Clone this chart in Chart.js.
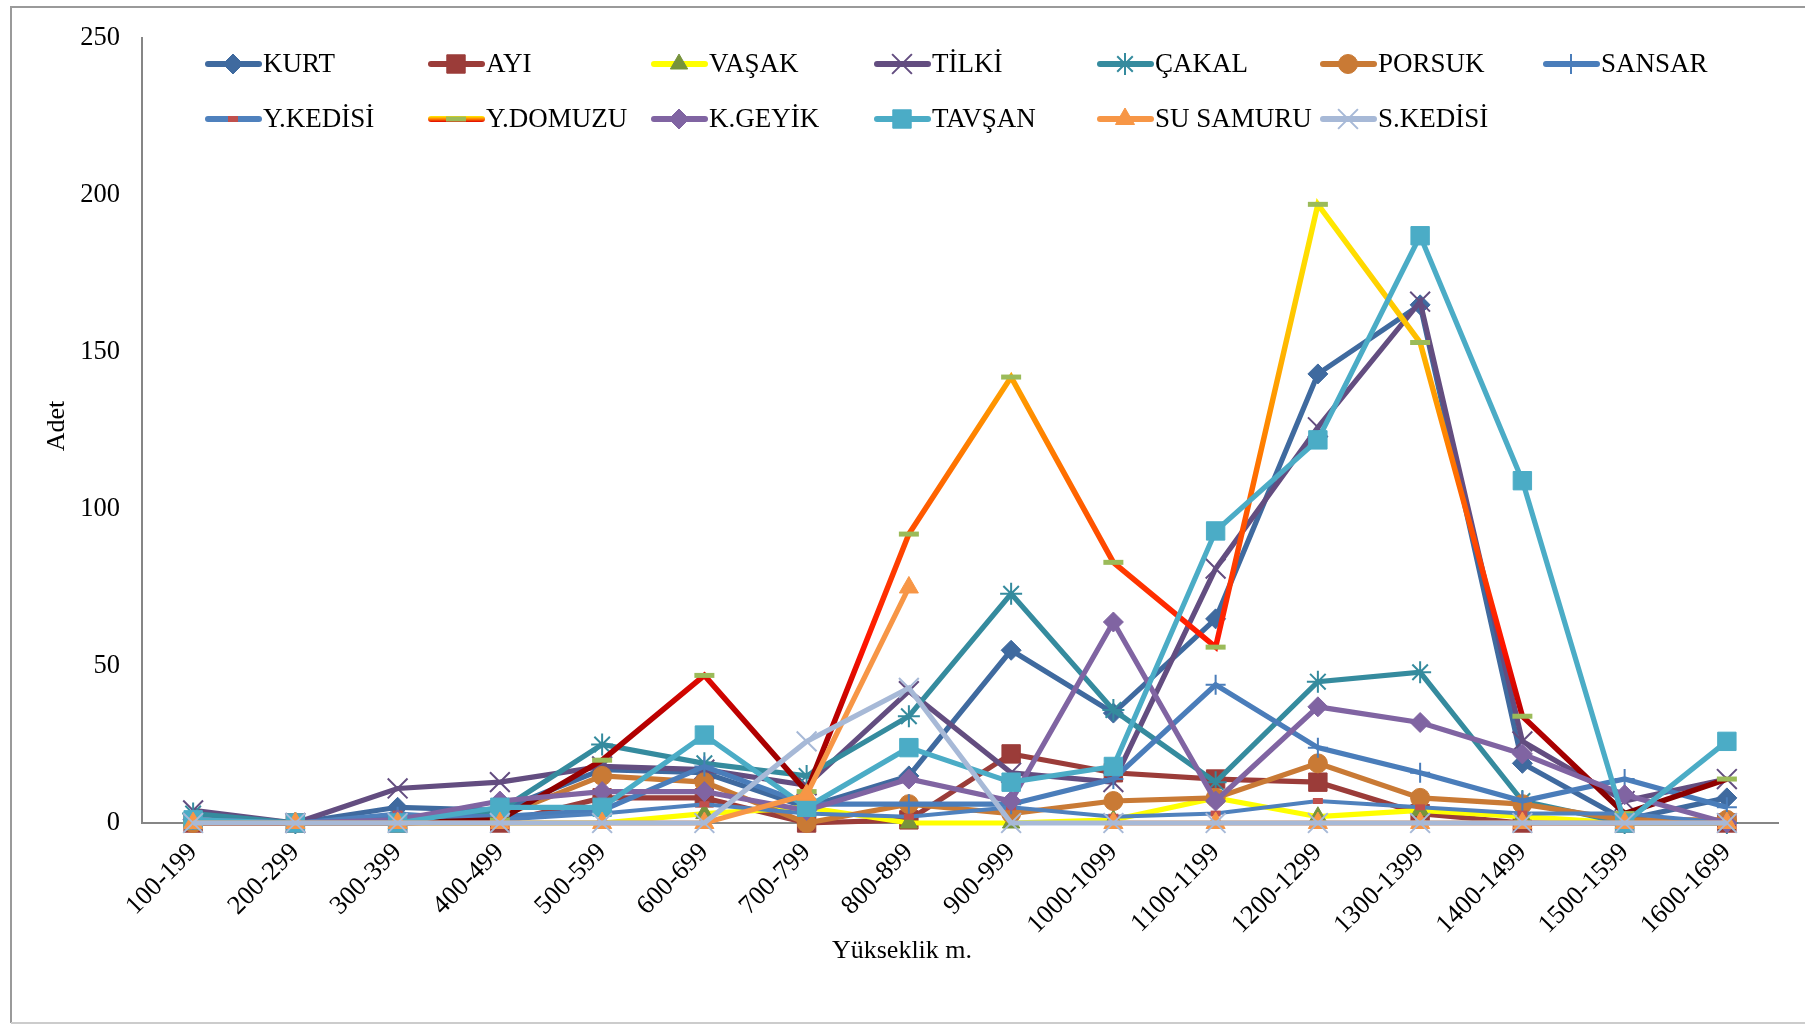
<!DOCTYPE html>
<html lang="tr">
<head>
<meta charset="utf-8">
<title>Yükseklik - Adet</title>
<script src="https://cdn.jsdelivr.net/npm/chart.js@4.4.1/dist/chart.umd.min.js"></script>
<style>
  html, body { margin: 0; padding: 0; background: #fff; }
  #wrap { position: relative; width: 1805px; height: 1025px; }
</style>
</head>
<body>
<div id="wrap"><canvas id="chart" width="1805" height="1025"></canvas></div>
<script>
// Altitude bands (m) and counts per species
const categories = ['100-199', '200-299', '300-399', '400-499', '500-599', '600-699', '700-799', '800-899',
                    '900-999', '1000-1099', '1100-1199', '1200-1299', '1300-1399', '1400-1499', '1500-1599', '1600-1699'];
const yTicks = [0, 50, 100, 150, 200, 250];

const kurt     = [1, 0, 5, 4, 17, 16, 5, 15, 55, 35, 65, 143, 165, 19, 1, 8];
const ayi      = [0, 0, 0, 0, 8, 8, 0, 1, 22, 16, 14, 13, 3, 0, 0, 0];
const vasak    = [0, 0, 0, 0, 0, 3, 5, 0, 0, 1, 8, 2, 4, 2, 0, 0];
const tilki    = [4, 0, 11, 13, 18, 17, 12, 42, 16, 13, 81, 126, 166, 26, 7, 14];
const cakal    = [3, 0, 1, 4, 25, 19, 15, 34, 73, 36, 13, 45, 48, 7, 0, 0];
const porsuk   = [0, 0, 0, 2, 15, 13, 0, 6, 3, 7, 8, 19, 8, 6, 1, 1];
const sansar   = [1, 0, 2, 2, 4, 18, 6, 6, 6, 14, 44, 24, 16, 7, 14, 5];
const yKedisi  = [0, 0, 3, 1, 3, 6, 3, 2, 5, 2, 3, 7, 5, 3, 3, 0];
const yDomuzu  = [0, 0, 0, 1, 20, 47, 10, 92, 142, 83, 56, 197, 153, 34, 3, 14];
const kGeyik   = [1, 0, 1, 7, 10, 10, 4, 14, 7, 64, 7, 37, 32, 22, 9, 0];
const tavsan   = [1, 0, 0, 5, 5, 28, 5, 24, 13, 18, 93, 122, 187, 109, 0, 26];
const suSamuru = [0, 0, 0, 0, 0, 0, 9, 75, null, 0, 0, 0, 0, 0, 0, 0];
const sKedisi  = [0, 0, 0, 0, 0, 0, 26, 43, 0, 0, 0, 0, 0, 0, 0, 0];

const FONT = '"Liberation Serif", "Times New Roman", serif';

// Y.DOMUZU line: dark red at the bottom, through orange, to yellow at the top
function domuzuGradient(chart) {
  const { ctx, chartArea, scales } = chart;
  if (!chartArea) return '#e00000';
  const y0 = scales.y.getPixelForValue(0);
  const y1 = scales.y.getPixelForValue(200);
  const g = ctx.createLinearGradient(0, y0, 0, y1);
  g.addColorStop(0, '#780000');
  g.addColorStop(0.18, '#c00000');
  g.addColorStop(0.28, '#ff1400');
  g.addColorStop(0.45, '#ff4a00');
  g.addColorStop(0.7, '#ffa000');
  g.addColorStop(0.78, '#ffc000');
  g.addColorStop(1, '#fff200');
  return g;
}

const series = [
  { label: 'KURT',      data: kurt,     color: '#3f6a9f', marker: 'rectRot',  radius: 10 },
  { label: 'AYI',       data: ayi,      color: '#9b3c39', marker: 'rect',     radius: 13 },
  { label: 'VAŞAK',     data: vasak,    color: '#ffff00', marker: 'triangle', radius: 10, markerColor: '#77933c' },
  { label: 'TİLKİ',     data: tilki,    color: '#634d80', marker: 'crossRot', radius: 14, markerWidth: 2 },
  { label: 'ÇAKAL',     data: cakal,    color: '#358b9e', marker: 'star',     radius: 11, markerWidth: 2 },
  { label: 'PORSUK',    data: porsuk,   color: '#c97a35', marker: 'circle',   radius: 9.5 },
  { label: 'SANSAR',    data: sansar,   color: '#4a7dba', marker: 'cross',    radius: 10, markerWidth: 2 },
  { label: 'Y.KEDİSİ',  data: yKedisi,  color: '#4f81bd', marker: 'line',     radius: 5, markerWidth: 6, markerColor: '#c0504d', lineWidth: 4 },
  { label: 'Y.DOMUZU',  data: yDomuzu,  color: null,      marker: 'line',     radius: 10, markerWidth: 5, markerColor: '#9bbb59', lineWidth: 5.5 },
  { label: 'K.GEYİK',   data: kGeyik,   color: '#8064a2', marker: 'rectRot',  radius: 10 },
  { label: 'TAVŞAN',    data: tavsan,   color: '#4bacc6', marker: 'rect',     radius: 13 },
  { label: 'SU SAMURU', data: suSamuru, color: '#f79646', marker: 'triangle', radius: 11 },
  { label: 'S.KEDİSİ',  data: sKedisi,  color: '#a7b9d7', marker: 'crossRot', radius: 14, markerWidth: 2 },
];

const datasets = series.map((s, i) => ({
  label: s.label,
  data: s.data,
  borderColor: s.color || (ctx => domuzuGradient(ctx.chart)),
  backgroundColor: s.color || '#ff0000',
  borderWidth: s.lineWidth || 5.2,
  pointStyle: s.marker,
  pointRadius: s.radius,
  pointHoverRadius: s.radius,
  pointBackgroundColor: s.markerColor || s.color,
  pointBorderColor: s.markerColor || s.color,
  pointBorderWidth: s.markerWidth || 1,
  tension: 0,
  spanGaps: false,
  fill: false,
  clip: false,
  order: series.length - i,   // later series on top, as in the original
}));

// Frame, axis titles and the two-row legend
const decor = {
  id: 'decor',
  beforeDraw(chart) {
    const ctx = chart.ctx;
    ctx.save();
    ctx.fillStyle = '#fff';
    ctx.fillRect(0, 0, chart.width, chart.height);
    ctx.strokeStyle = '#9a9a9a';
    ctx.lineWidth = 2;
    ctx.beginPath();
    ctx.moveTo(chart.width, 7);
    ctx.lineTo(11, 7);
    ctx.lineTo(11, 1023);
    ctx.stroke();
    ctx.strokeStyle = '#cccccc';
    ctx.beginPath();
    ctx.moveTo(11, 1023);
    ctx.lineTo(chart.width, 1023);
    ctx.stroke();
    ctx.restore();
  },
  afterDraw(chart) {
    const ctx = chart.ctx;
    ctx.save();
    ctx.fillStyle = '#000';
    ctx.font = `26px ${FONT}`;
    ctx.textAlign = 'center';
    ctx.textBaseline = 'middle';
    ctx.fillText('Yükseklik m.', 902, 951);
    ctx.save();
    ctx.translate(57, 426);
    ctx.rotate(-Math.PI / 2);
    ctx.fillText('Adet', 0, 0);
    ctx.restore();

    // legend grid: 7 columns, 2 rows
    series.forEach((s, i) => {
      const x0 = 205 + (i % 7) * 223;
      const y = 64 + Math.floor(i / 7) * 55;
      if (s.color) {
        ctx.strokeStyle = s.color;
      } else {
        const g = ctx.createLinearGradient(0, y - 3, 0, y + 3);
        g.addColorStop(0, '#fff200');
        g.addColorStop(0.5, '#ff8000');
        g.addColorStop(1, '#e00000');
        ctx.strokeStyle = g;
      }
      ctx.lineWidth = 6;
      ctx.lineCap = 'round';
      ctx.beginPath();
      ctx.moveTo(x0 + 3, y);
      ctx.lineTo(x0 + 54, y);
      ctx.stroke();
      ctx.lineCap = 'butt';
      ctx.fillStyle = s.markerColor || s.color;
      ctx.strokeStyle = s.markerColor || s.color;
      ctx.lineWidth = s.markerWidth || 1;
      Chart.helpers.drawPoint(ctx, {
        pointStyle: s.marker, radius: s.radius, borderWidth: s.markerWidth || 1, rotation: 0,
      }, x0 + 28, y);
      ctx.fillStyle = '#000';
      ctx.textAlign = 'left';
      ctx.textBaseline = 'middle';
      ctx.font = `27px ${FONT}`;
      ctx.fillText(s.label, x0 + 58, y + 1);
    });
    ctx.restore();
  },
};

new Chart(document.getElementById('chart'), {
  type: 'line',
  data: { labels: categories, datasets },
  plugins: [decor],
  options: {
    responsive: false,
    animation: false,
    devicePixelRatio: 1,
    layout: { padding: { left: 0, right: 27, top: 32, bottom: 0 } },
    plugins: {
      legend: { display: false },
      tooltip: { enabled: false },
    },
    events: [],
    scales: {
      x: {
        type: 'category',
        offset: true,
        grid: { display: false, drawTicks: false },
        border: { display: true, color: '#868686', width: 2 },
        ticks: {
          autoSkip: false, minRotation: 45, maxRotation: 45, padding: 14,
          color: '#000', font: { family: FONT, size: 26.5 },
        },
        afterFit: s => { s.height = 202; },
      },
      y: {
        min: 0,
        max: 250,
        afterBuildTicks: s => { s.ticks = yTicks.map(v => ({ value: v })); },
        grid: { display: false, drawTicks: false },
        border: { display: true, color: '#868686', width: 2 },
        ticks: { padding: 22, color: '#000', font: { family: FONT, size: 26.5 } },
        afterFit: s => { s.width = 142; },
      },
    },
  },
});
</script>
</body>
</html>
